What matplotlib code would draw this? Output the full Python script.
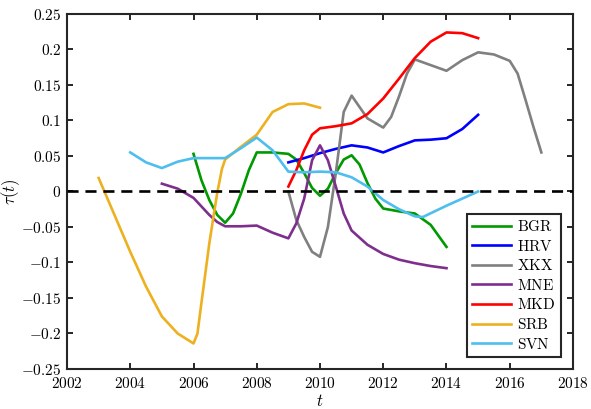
import numpy as np
import matplotlib
matplotlib.use('Agg')
import matplotlib.pyplot as plt

plt.rcParams.update({'mathtext.fontset': 'cm', 'font.family': 'serif', 'font.size': 10.5})

# values, tau(t) per country
bgr_t = [2006, 2006.25, 2006.5, 2006.75, 2007, 2007.25, 2007.5, 2007.75, 2008, 2008.5, 2009, 2009.25, 2009.5,
         2009.75, 2010, 2010.25, 2010.5, 2010.75, 2011, 2011.25, 2011.5, 2011.75, 2012, 2012.5, 2013, 2013.5, 2014]
bgr_v = [0.053, 0.016, -0.012, -0.033, -0.044, -0.031, -0.003, 0.030, 0.055, 0.055, 0.053, 0.045, 0.026,
         0.005, -0.006, 0.004, 0.026, 0.045, 0.051, 0.038, 0.012, -0.010, -0.024, -0.028, -0.031, -0.047, -0.078]

hrv_t = [2009, 2009.5, 2010, 2010.5, 2011, 2011.5, 2012, 2012.5, 2013, 2013.5, 2014, 2014.5, 2015]
hrv_v = [0.041, 0.047, 0.054, 0.060, 0.065, 0.062, 0.055, 0.064, 0.072, 0.073, 0.075, 0.088, 0.108]

xkx_t = [2009, 2009.25, 2009.5, 2009.75, 2010, 2010.25, 2010.5, 2010.75, 2011, 2011.5, 2012, 2012.25, 2012.5,
         2012.75, 2013, 2013.5, 2014, 2014.5, 2015, 2015.5, 2016, 2016.25, 2016.5, 2016.75, 2017]
xkx_v = [0.0, -0.040, -0.064, -0.085, -0.092, -0.050, 0.026, 0.112, 0.135, 0.103, 0.090, 0.105, 0.134,
         0.166, 0.186, 0.178, 0.170, 0.185, 0.196, 0.193, 0.184, 0.166, 0.129, 0.091, 0.055]

mne_t = [2005, 2005.5, 2006, 2006.5, 2006.75, 2007, 2007.5, 2008, 2008.5, 2009, 2009.25, 2009.5, 2009.75, 2010,
         2010.25, 2010.5, 2010.75, 2011, 2011.5, 2012, 2012.5, 2013, 2013.5, 2014]
mne_v = [0.011, 0.004, -0.009, -0.033, -0.043, -0.049, -0.049, -0.048, -0.058, -0.066, -0.045, -0.010, 0.044, 0.065,
         0.044, 0.007, -0.031, -0.055, -0.075, -0.088, -0.096, -0.101, -0.105, -0.108]

mkd_t = [2009, 2009.25, 2009.5, 2009.75, 2010, 2010.5, 2011, 2011.5, 2012, 2012.5, 2013, 2013.5, 2014, 2014.5, 2015]
mkd_v = [0.007, 0.030, 0.058, 0.080, 0.089, 0.092, 0.096, 0.109, 0.131, 0.159, 0.188, 0.211, 0.224, 0.223, 0.216]

srb_t = [2003, 2003.5, 2004, 2004.5, 2005, 2005.5, 2005.75, 2006, 2006.125, 2006.25, 2006.5, 2006.75, 2006.9,
         2007, 2007.5, 2008, 2008.5, 2009, 2009.5, 2010]
srb_v = [0.019, -0.033, -0.085, -0.134, -0.176, -0.200, -0.207, -0.214, -0.200, -0.157, -0.073, -0.002, 0.032,
         0.045, 0.063, 0.080, 0.112, 0.123, 0.124, 0.118]

svn_t = [2004, 2004.5, 2005, 2005.5, 2006, 2006.5, 2007, 2007.5, 2008, 2008.5, 2009, 2009.5, 2010, 2010.5, 2011,
         2011.5, 2012, 2012.5, 2013, 2013.25, 2014, 2015]
svn_v = [0.055, 0.041, 0.033, 0.042, 0.047, 0.047, 0.047, 0.061, 0.076, 0.058, 0.028, 0.027, 0.028, 0.027, 0.020,
         0.007, -0.012, -0.025, -0.035, -0.036, -0.020, 0.000]

series = [('BGR', bgr_t, bgr_v, '#009900'),
          ('HRV', hrv_t, hrv_v, '#0000FF'),
          ('XKX', xkx_t, xkx_v, '#808080'),
          ('MNE', mne_t, mne_v, '#7E2F8E'),
          ('MKD', mkd_t, mkd_v, '#FF0000'),
          ('SRB', srb_t, srb_v, '#EDB120'),
          ('SVN', svn_t, svn_v, '#4DBEEE')]

x_ticks = [2002, 2004, 2006, 2008, 2010, 2012, 2014, 2016, 2018]
y_ticks = [-0.25, -0.2, -0.15, -0.1, -0.05, 0, 0.05, 0.1, 0.15, 0.2, 0.25]
y_labels = ['-0.25', '-0.2', '-0.15', '-0.1', '-0.05', '0', '0.05', '0.1', '0.15', '0.2', '0.25']

fig = plt.figure(figsize=(5.91, 4.09), dpi=100)
ax = fig.add_axes([0.1134, 0.0978, 0.8561, 0.868])

for name, t, v, c in series:
    ax.plot(t, v, color=c, lw=1.9, label=r'$\mathrm{%s}$' % name, solid_joinstyle='round')

ax.axhline(0, color='k', lw=1.9, dashes=(4.2, 2.6), zorder=5)

ax.set_xlim(2002, 2018)
ax.set_ylim(-0.25, 0.25)
ax.set_xticks(x_ticks)
ax.set_xticklabels([r'$%d$' % x for x in x_ticks])
ax.set_yticks(y_ticks)
ax.set_yticklabels([r'$%s$' % s for s in y_labels])
ax.tick_params(direction='in', length=4, width=1.4, top=True, right=True, color='#262626', labelsize=11)
ax.tick_params(axis='x', pad=5)
ax.tick_params(axis='y', pad=4)
for s in ax.spines.values():
    s.set_linewidth(1.5)
    s.set_color('#262626')

ax.set_xlabel(r'$t$', fontsize=12)
ax.set_ylabel(r'$\tau(t)$', fontsize=12)
ax.xaxis.set_label_coords(0.5, -0.068)
ax.yaxis.set_label_coords(-0.089, 0.5)

leg = ax.legend(loc='lower right', bbox_to_anchor=(0.976, 0.034), borderaxespad=0, fancybox=False,
                framealpha=1, edgecolor='#262626', handlelength=2.5, handletextpad=0.4, labelspacing=0.3,
                borderpad=0.35, fontsize=11)
leg.get_frame().set_linewidth(1.5)

fig.savefig('out.png', dpi=100)
